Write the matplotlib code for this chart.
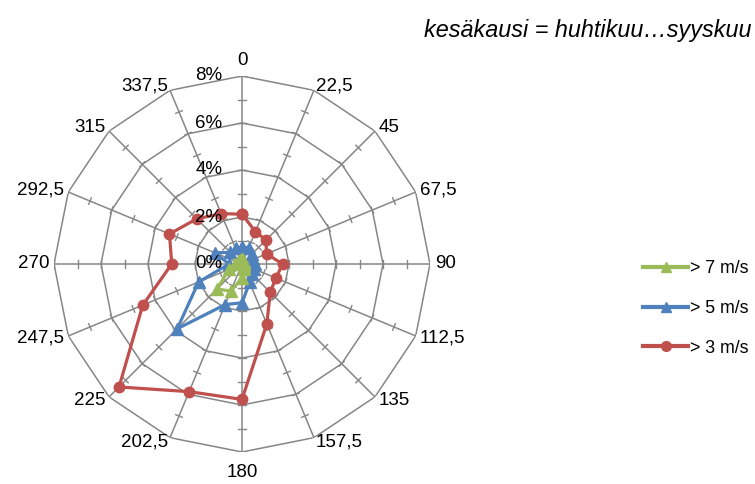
import numpy as np
import matplotlib
matplotlib.use("Agg")
import matplotlib.pyplot as plt
from matplotlib.lines import Line2D

plt.rcParams['font.family'] = ['Liberation Sans', 'DejaVu Sans']

# Wind direction sectors (degrees) and their labels
directions = [0, 22.5, 45, 67.5, 90, 112.5, 135, 157.5,
              180, 202.5, 225, 247.5, 270, 292.5, 315, 337.5]
direction_labels = ["0", "22,5", "45", "67,5", "90", "112,5", "135", "157,5",
                    "180", "202,5", "225", "247,5", "270", "292,5", "315", "337,5"]

# Share of time (%) with wind speed above each threshold, per sector
over_3 = [2.12, 1.49, 1.44, 1.13, 1.73, 1.56, 1.70, 2.76,
          5.76, 5.88, 7.40, 4.57, 2.99, 3.34, 2.72, 2.32]
over_5 = [0.72, 0.75, 0.60, 0.52, 0.55, 0.55, 0.60, 0.85,
          1.65, 1.87, 3.90, 2.00, 0.55, 1.26, 0.70, 0.72]
over_7 = [0.20, 0.15, 0.15, 0.10, 0.10, 0.10, 0.15, 0.25,
          0.60, 1.25, 1.50, 0.60, 0.30, 0.20, 0.20, 0.20]

series_names = ["> 7 m/s", "> 5 m/s", "> 3 m/s"]
ring_values = [0, 2, 4, 6, 8]
tick_values = [1, 2, 3, 4, 5, 6, 7, 8]

GRID = "#868686"
GREEN, BLUE, RED = "#9BBB59", "#4F81BD", "#C0504D"
FS = 13.5

W, H = 755, 484
fig = plt.figure(figsize=(W / 100, H / 100), dpi=100)
cx, cy, R = 242, 264, 188
ax = fig.add_axes([(cx - R) / W, (H - cy - R) / H, 2 * R / W, 2 * R / H],
                  projection="polar")
ax.set_theta_zero_location("N")
ax.set_theta_direction(-1)
ax.set_ylim(0, 8)
ax.grid(False)
ax.spines["polar"].set_visible(False)
ax.set_xticks([])
ax.set_yticks([])
ax.patch.set_alpha(0)

theta = np.deg2rad(directions)
theta_c = np.append(theta, theta[0])

# polygonal rings
for v in ring_values[1:]:
    ax.plot(theta_c, np.full(len(theta_c), v), color=GRID, lw=1.1, zorder=1)
# spokes
for t in theta:
    ax.plot([t, t], [0, 8], color=GRID, lw=1.1, zorder=1)
# small cross ticks on every spoke
h = 0.15
for t in theta:
    for v in tick_values:
        dt = np.arctan2(h, v)
        rr = np.hypot(v, h)
        ax.plot([t - dt, t + dt], [rr, rr], color=GRID, lw=1.0, zorder=1)

# data series
def closed(vals):
    return np.append(vals, vals[0])

ax.plot(theta_c, closed(over_3), color=RED, lw=2.3, marker="o", ms=7.5,
        zorder=3, clip_on=False)
ax.plot(theta_c, closed(over_5), color=BLUE, lw=2.3, marker="^", ms=8.5,
        zorder=4, clip_on=False)
ax.plot(theta_c, closed(over_7), color=GREEN, lw=2.3, marker="^", ms=8.5,
        zorder=5, clip_on=False)

# sector labels
for t, lab in zip(theta, direction_labels):
    s, c = np.sin(t), np.cos(t)
    ha = "left" if s > 0.1 else ("right" if s < -0.1 else "center")
    if c > 0.95:
        va, r_lab = "bottom", 8.3
    elif c < -0.95:
        va, r_lab = "top", 8.5
    else:
        va, r_lab = "center", 8.2
    ax.text(t, r_lab, lab, ha=ha, va=va, fontsize=FS, clip_on=False)

# value axis labels
for v in ring_values:
    ax.annotate(f"{v}%", xy=(0, v), xytext=(-14, 0), textcoords="offset points",
                ha="right", va="center", fontsize=FS, zorder=7)

# title
fig.text(752 / W, 1 - 30 / H, "kesäkausi = huhtikuu…syyskuu", ha="right",
         va="center", fontsize=16.8, style="italic")

# legend
handles = [Line2D([], [], color=GREEN, lw=3, marker="^", ms=7),
           Line2D([], [], color=BLUE, lw=3, marker="^", ms=7),
           Line2D([], [], color=RED, lw=3, marker="o", ms=7)]
fig.legend(handles, series_names, loc="upper left",
           bbox_to_anchor=(643 / W, 1 - 260 / H), frameon=False,
           fontsize=12.8, handlelength=2.55, handletextpad=0.12,
           labelspacing=1.28, borderpad=0, borderaxespad=0, markerscale=1)

fig.savefig("out.png", dpi=100)
